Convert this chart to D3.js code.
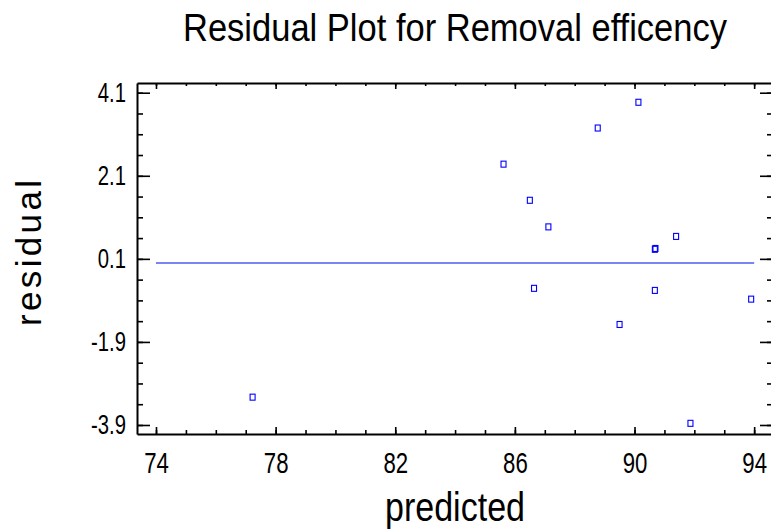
<!DOCTYPE html>
<html>
<head>
<meta charset="utf-8">
<script src="https://cdn.jsdelivr.net/npm/d3@7"></script>
<style>
  body { margin: 0; background: #fff; }
  text { font-family: "Liberation Sans", Arial, Helvetica, sans-serif; fill: #000; }
</style>
</head>
<body>
<svg id="chart" width="771" height="531"></svg>
<script>
// values
var predicted = [77.23, 85.62, 86.50, 86.64, 87.12, 88.77, 89.50, 90.13, 90.68, 90.70, 90.68, 91.39, 91.87, 93.90];
var residual  = [-3.23, 2.38, 1.51, -0.61, 0.87, 3.25, -1.48, 3.87, 0.33, 0.35, -0.66, 0.64, -3.86, -0.87];

var xMajor = [74, 78, 82, 86, 90, 94];
var xMinor = d3.range(74, 95, 1);
var yMajor = [4.1, 2.1, 0.1, -1.9, -3.9];
var yMinor = [4.1, 3.6, 3.1, 2.6, 2.1, 1.6, 1.1, 0.6, 0.1, -0.4, -0.9, -1.4, -1.9, -2.4, -2.9, -3.4, -3.9];
var zeroLine = [[74, 0], [94, 0]];

var title = "Residual Plot for Removal efficency";
var xTitle = "predicted";
var yTitle = "residual";

var svg = d3.select("#chart");

// plot frame in pixels
var plotLeft = 137, plotRight = 773, plotTop = 83, plotBottom = 434;

var xScale = d3.scaleLinear().domain([73.365, 94.63]).range([plotLeft, plotRight]);
var yScale = d3.scaleLinear().domain([-4.117, 4.334]).range([plotBottom, plotTop]);

// plain hyphen for negatives, like the original
var yFormat = function (d) { return d.toFixed(1); };
var xFormat = function (d) { return String(d); };

function styleAxis(g, width) {
  g.selectAll("path.domain").attr("stroke", "#000").attr("stroke-width", width);
  g.selectAll(".tick line").attr("stroke", "#000").attr("stroke-width", 1.6);
}

// the reference font is a narrow sans, so squeeze the text horizontally
function condense(sel, factor) {
  sel.each(function () {
    var w = this.getComputedTextLength();
    d3.select(this).attr("textLength", w * factor).attr("lengthAdjust", "spacingAndGlyphs");
  });
}

// minor ticks first
svg.append("g").attr("transform", "translate(" + plotLeft + ",0)")
  .call(d3.axisLeft(yScale).tickValues(yMinor).tickSizeInner(-6).tickSizeOuter(0).tickFormat(""))
  .call(function (g) { g.select(".domain").remove(); styleAxis(g, 2); });
svg.append("g").attr("transform", "translate(" + plotRight + ",0)")
  .call(d3.axisRight(yScale).tickValues(yMinor).tickSizeInner(-6).tickSizeOuter(0).tickFormat(""))
  .call(function (g) { g.select(".domain").remove(); styleAxis(g, 2); });
svg.append("g").attr("transform", "translate(0," + plotBottom + ")")
  .call(d3.axisBottom(xScale).tickValues(xMinor).tickSizeInner(-4).tickSizeOuter(0).tickFormat(""))
  .call(function (g) { g.select(".domain").remove(); styleAxis(g, 2); });
svg.append("g").attr("transform", "translate(0," + plotTop + ")")
  .call(d3.axisTop(xScale).tickValues(xMinor).tickSizeInner(-3).tickSizeOuter(0).tickFormat(""))
  .call(function (g) { g.select(".domain").remove(); styleAxis(g, 2); });

// major ticks + labels
svg.append("g").attr("transform", "translate(" + plotLeft + ",0)")
  .call(d3.axisLeft(yScale).tickValues(yMajor).tickSizeInner(-13).tickSizeOuter(0).tickPadding(11).tickFormat(yFormat))
  .call(function (g) {
    styleAxis(g, 2);
    g.selectAll(".tick text").attr("font-size", 27).attr("font-family", null).attr("fill", "#000")
      .call(condense, 0.75);
  });
svg.append("g").attr("transform", "translate(" + plotRight + ",0)")
  .call(d3.axisRight(yScale).tickValues(yMajor).tickSizeInner(-13).tickSizeOuter(0).tickFormat(""))
  .call(function (g) { styleAxis(g, 2); });
svg.append("g").attr("transform", "translate(0," + plotBottom + ")")
  .call(d3.axisBottom(xScale).tickValues(xMajor).tickSizeInner(-7).tickSizeOuter(0).tickPadding(18).tickFormat(xFormat))
  .call(function (g) {
    styleAxis(g, 2.2);
    g.selectAll(".tick text").attr("font-size", 30).attr("font-family", null).attr("fill", "#000")
      .call(condense, 0.74);
  });
svg.append("g").attr("transform", "translate(0," + plotTop + ")")
  .call(d3.axisTop(xScale).tickValues(xMajor).tickSizeInner(-6).tickSizeOuter(0).tickFormat(""))
  .call(function (g) { styleAxis(g, 2.2); });

// zero reference line
svg.append("path")
  .attr("d", d3.line().x(function (d) { return xScale(d[0]); }).y(function (d) { return yScale(d[1]); })(zeroLine))
  .attr("fill", "none")
  .attr("stroke", "#4a5cf5")
  .attr("stroke-width", 1.5);

// residual points, small hollow squares
svg.append("g").selectAll("rect")
  .data(predicted)
  .enter().append("rect")
  .attr("x", function (d) { return xScale(d) - 2.5; })
  .attr("y", function (d, i) { return yScale(residual[i]) - 3; })
  .attr("width", 5)
  .attr("height", 6)
  .attr("fill", "none")
  .attr("stroke", "#0000ff")
  .attr("stroke-width", 1.1);

// titles
svg.append("text")
  .attr("x", 455).attr("y", 41)
  .attr("text-anchor", "middle")
  .attr("font-size", 38)
  .attr("textLength", 544).attr("lengthAdjust", "spacingAndGlyphs")
  .text(title);

svg.append("text")
  .attr("x", 455).attr("y", 521)
  .attr("text-anchor", "middle")
  .attr("font-size", 40)
  .attr("textLength", 140).attr("lengthAdjust", "spacingAndGlyphs")
  .text(xTitle);

svg.append("text")
  .attr("transform", "translate(41,253)rotate(-90)")
  .attr("text-anchor", "middle")
  .attr("font-size", 35)
  .attr("textLength", 146).attr("lengthAdjust", "spacing")
  .text(yTitle);
</script>
</body>
</html>
